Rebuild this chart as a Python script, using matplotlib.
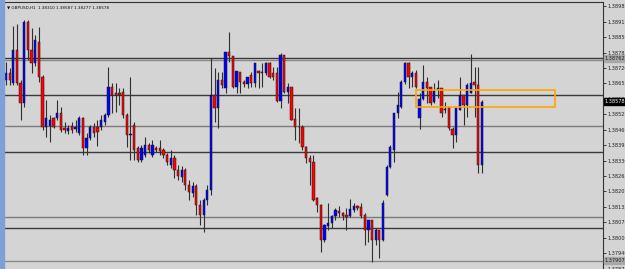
import numpy as np
import matplotlib.pyplot as plt
from matplotlib.patches import Rectangle

# GBPUSD H1 bars (oldest -> newest)
opens = [1.38670, 1.38700, 1.38658, 1.38797, 1.38658, 1.38573, 1.38915, 1.38797, 1.38742, 1.38831,
         1.38683, 1.38472, 1.38476, 1.38510, 1.38510, 1.38531, 1.38468, 1.38455, 1.38476, 1.38464,
         1.38447, 1.38510, 1.38383, 1.38426, 1.38472, 1.38472, 1.38472, 1.38493, 1.38523, 1.38641,
         1.38616, 1.38616, 1.38620, 1.38523, 1.38438, 1.38480, 1.38383, 1.38333, 1.38354, 1.38396,
         1.38354, 1.38383, 1.38383, 1.38375, 1.38354, 1.38312, 1.38341, 1.38291, 1.38261, 1.38291,
         1.38227, 1.38194, 1.38223, 1.38143, 1.38101, 1.38164, 1.38206, 1.38607, 1.38552, 1.38670,
         1.38637, 1.38789, 1.38772, 1.38641, 1.38704, 1.38662, 1.38654, 1.38692, 1.38658, 1.38708,
         1.38704, 1.38700, 1.38742, 1.38700, 1.38700, 1.38582, 1.38776, 1.38620, 1.38641, 1.38506,
         1.38472, 1.38472, 1.38388, 1.38341, 1.38324, 1.38172, 1.38143, 1.37995, 1.38054, 1.38067,
         1.38096, 1.38118, 1.38109, 1.38101, 1.38096, 1.38122, 1.38139, 1.38134, 1.38101, 1.38037,
         1.38080, 1.37995, 1.38037, 1.37995, 1.38185, 1.38303, 1.38375, 1.38531, 1.38556, 1.38662,
         1.38742, 1.38683, 1.38700, 1.38510, 1.38590, 1.38662, 1.38641, 1.38578, 1.38628, 1.38637,
         1.38544, 1.38556, 1.38464, 1.38438, 1.38544, 1.38607, 1.38565, 1.38616, 1.38662, 1.38649,
         1.38310]
highs = [1.38746, 1.38721, 1.38898, 1.38907, 1.38670, 1.38924, 1.38924, 1.38890, 1.38860, 1.38894,
         1.38692, 1.38586, 1.38523, 1.38514, 1.38586, 1.38556, 1.38493, 1.38480, 1.38493, 1.38502,
         1.38518, 1.38514, 1.38447, 1.38480, 1.38489, 1.38502, 1.38523, 1.38531, 1.38725, 1.38658,
         1.38658, 1.38637, 1.38637, 1.38531, 1.38683, 1.38493, 1.38392, 1.38396, 1.38430, 1.38405,
         1.38417, 1.38392, 1.38417, 1.38383, 1.38362, 1.38375, 1.38354, 1.38312, 1.38308, 1.38299,
         1.38248, 1.38240, 1.38231, 1.38164, 1.38172, 1.38227, 1.38763, 1.38721, 1.38704, 1.38704,
         1.38789, 1.38873, 1.38772, 1.38708, 1.38704, 1.38670, 1.38683, 1.38704, 1.38742, 1.38713,
         1.38742, 1.38746, 1.38746, 1.38725, 1.38725, 1.38784, 1.38776, 1.38658, 1.38641, 1.38552,
         1.38552, 1.38480, 1.38392, 1.38354, 1.38354, 1.38177, 1.38147, 1.38063, 1.38151, 1.38101,
         1.38130, 1.38139, 1.38113, 1.38130, 1.38168, 1.38151, 1.38143, 1.38151, 1.38109, 1.38080,
         1.38080, 1.38046, 1.38037, 1.38164, 1.38312, 1.38396, 1.38531, 1.38620, 1.38670, 1.38746,
         1.38746, 1.38708, 1.38713, 1.38616, 1.38734, 1.38683, 1.38641, 1.38658, 1.38670, 1.38637,
         1.38578, 1.38556, 1.38472, 1.38552, 1.38683, 1.38607, 1.38658, 1.38780, 1.38725, 1.38725,
         1.38587]
lows = [1.38649, 1.38649, 1.38649, 1.38649, 1.38502, 1.38556, 1.38755, 1.38700, 1.38729, 1.38662,
        1.38459, 1.38430, 1.38409, 1.38468, 1.38502, 1.38451, 1.38447, 1.38443, 1.38447, 1.38451,
        1.38438, 1.38354, 1.38354, 1.38417, 1.38430, 1.38392, 1.38459, 1.38480, 1.38514, 1.38531,
        1.38535, 1.38565, 1.38510, 1.38388, 1.38333, 1.38333, 1.38324, 1.38324, 1.38345, 1.38362,
        1.38345, 1.38367, 1.38354, 1.38341, 1.38312, 1.38299, 1.38257, 1.38248, 1.38240, 1.38206,
        1.38164, 1.38177, 1.38101, 1.38059, 1.38029, 1.38143, 1.38185, 1.38493, 1.38468, 1.38637,
        1.38616, 1.38746, 1.38637, 1.38616, 1.38616, 1.38641, 1.38637, 1.38641, 1.38641, 1.38637,
        1.38641, 1.38692, 1.38679, 1.38670, 1.38578, 1.38552, 1.38616, 1.38573, 1.38502, 1.38417,
        1.38405, 1.38375, 1.38320, 1.38227, 1.38160, 1.38113, 1.37945, 1.37987, 1.38037, 1.38046,
        1.38080, 1.38092, 1.38080, 1.38037, 1.38092, 1.38113, 1.38122, 1.38088, 1.37974, 1.37987,
        1.37902, 1.37974, 1.37919, 1.37991, 1.38181, 1.38299, 1.38324, 1.38510, 1.38552, 1.38654,
        1.38637, 1.38641, 1.38637, 1.38464, 1.38586, 1.38573, 1.38565, 1.38573, 1.38594, 1.38514,
        1.38531, 1.38459, 1.38383, 1.38409, 1.38544, 1.38480, 1.38514, 1.38616, 1.38514, 1.38278,
        1.38277]
closes = [1.38700, 1.38670, 1.38797, 1.38658, 1.38573, 1.38915, 1.38797, 1.38742, 1.38839, 1.38683,
          1.38472, 1.38510, 1.38502, 1.38472, 1.38531, 1.38459, 1.38459, 1.38468, 1.38459, 1.38472,
          1.38510, 1.38383, 1.38426, 1.38472, 1.38447, 1.38451, 1.38502, 1.38523, 1.38641, 1.38607,
          1.38607, 1.38607, 1.38523, 1.38438, 1.38443, 1.38375, 1.38333, 1.38383, 1.38396, 1.38375,
          1.38396, 1.38375, 1.38371, 1.38354, 1.38324, 1.38341, 1.38291, 1.38265, 1.38291, 1.38227,
          1.38198, 1.38223, 1.38143, 1.38101, 1.38164, 1.38206, 1.38607, 1.38552, 1.38670, 1.38649,
          1.38789, 1.38772, 1.38641, 1.38708, 1.38662, 1.38654, 1.38683, 1.38658, 1.38742, 1.38700,
          1.38700, 1.38742, 1.38683, 1.38683, 1.38582, 1.38776, 1.38620, 1.38641, 1.38502, 1.38472,
          1.38472, 1.38388, 1.38341, 1.38324, 1.38164, 1.38143, 1.37995, 1.38059, 1.38067, 1.38096,
          1.38122, 1.38109, 1.38096, 1.38092, 1.38126, 1.38139, 1.38130, 1.38096, 1.38037, 1.38080,
          1.37995, 1.38037, 1.37995, 1.38151, 1.38303, 1.38388, 1.38531, 1.38565, 1.38662, 1.38742,
          1.38683, 1.38700, 1.38641, 1.38590, 1.38662, 1.38637, 1.38573, 1.38624, 1.38637, 1.38531,
          1.38544, 1.38468, 1.38438, 1.38552, 1.38607, 1.38565, 1.38649, 1.38658, 1.38649, 1.38310,
          1.38578]

# horizontal levels drawn on the chart: (price, colour)
level_prices = [1.38762, 1.38752, 1.38607, 1.38474, 1.38367, 1.38092, 1.38044, 1.37907]
level_colors = ["#3a3a3a", "#8a8a8a", "#3a3a3a", "#7c7c7c", "#3a3a3a", "#7c7c7c", "#3a3a3a", "#8a8a8a"]

# orange zone
zone_bars = (112.0, 150.0)
zone_prices = (1.38556, 1.38628)

# price scale labels
tick_prices = [1.37875, 1.37940, 1.38005, 1.38070, 1.38135, 1.38200, 1.38265, 1.38330, 1.38395,
               1.38460, 1.38525, 1.38590, 1.38655, 1.38720, 1.38785, 1.38850, 1.38915, 1.38980]
bid = 1.38578
title = "\u25bc GBPUSD,H1  1.38310 1.38587 1.38277 1.38578"

BG = "#d4d4d4"

o = np.array(opens)
h = np.array(highs)
l = np.array(lows)
c = np.array(closes)
x = np.arange(len(o))

fig = plt.figure(figsize=(6.25, 2.69), dpi=100, facecolor=BG)
ax = fig.add_axes([5 / 625, 0, 598 / 625, 267 / 269], facecolor=BG)

# levels first so candles sit on top
for p, col in zip(level_prices, level_colors):
    ax.axhline(p, color=col, lw=1.0, zorder=1)

up = c >= o
cols = np.where(up, "#0000ff", "#ff0000")
ax.vlines(x, l, h, color="#303030", lw=0.8, zorder=2)
body_lo = np.minimum(o, c)
body_h = np.maximum(np.abs(c - o), 0.000012)
ax.bar(x, body_h, bottom=body_lo, width=0.62, color=cols,
       edgecolor="#1a1a1a", linewidth=0.35, zorder=3)

ax.add_patch(Rectangle((zone_bars[0], zone_prices[0]), zone_bars[1] - zone_bars[0],
                       zone_prices[1] - zone_prices[0], fill=False,
                       edgecolor="#ffa500", lw=1.2, zorder=4))

ax.set_xlim(-0.27, 163.1)
ax.set_ylim(1.37873, 1.38998)

ax.yaxis.tick_right()
ax.set_yticks(tick_prices)
ax.set_yticklabels([f"{t:.5f}" for t in tick_prices])
ax.tick_params(axis="y", length=2.5, width=0.6, pad=1, labelsize=3.6, colors="#222222")
ax.set_xticks([])
for side in ("left", "bottom"):
    ax.spines[side].set_visible(False)
for side in ("top", "right"):
    ax.spines[side].set_color("#333333")
    ax.spines[side].set_linewidth(0.8)

# boxed labels on the price scale
lab_kw = dict(transform=ax.get_yaxis_transform(), fontsize=3.6, va="center", ha="left",
              clip_on=False, zorder=6)
ax.text(1.003, bid, f"{bid:.5f}", color="white",
        bbox=dict(boxstyle="square,pad=0.2", fc="black", ec="black"), **lab_kw)
ax.text(1.003, level_prices[0], f"{level_prices[0]:.5f}", color="#222222",
        bbox=dict(boxstyle="square,pad=0.2", fc="#a8a8a8", ec="#a8a8a8"), **lab_kw)
ax.text(1.003, level_prices[-1], f"{level_prices[-1]:.5f}", color="#222222",
        bbox=dict(boxstyle="square,pad=0.2", fc="#a8a8a8", ec="#a8a8a8"), **lab_kw)

ax.text(0.003, 0.988, title, transform=ax.transAxes, fontsize=3.0, va="top", ha="left",
        color="#111111", zorder=6)

# window frame strip on the far left
fig.patches.append(Rectangle((0, 0), 4 / 625, 1, transform=fig.transFigure,
                             color="#7f9fd8", zorder=0))

fig.savefig("out.png", dpi=100, facecolor=BG)
